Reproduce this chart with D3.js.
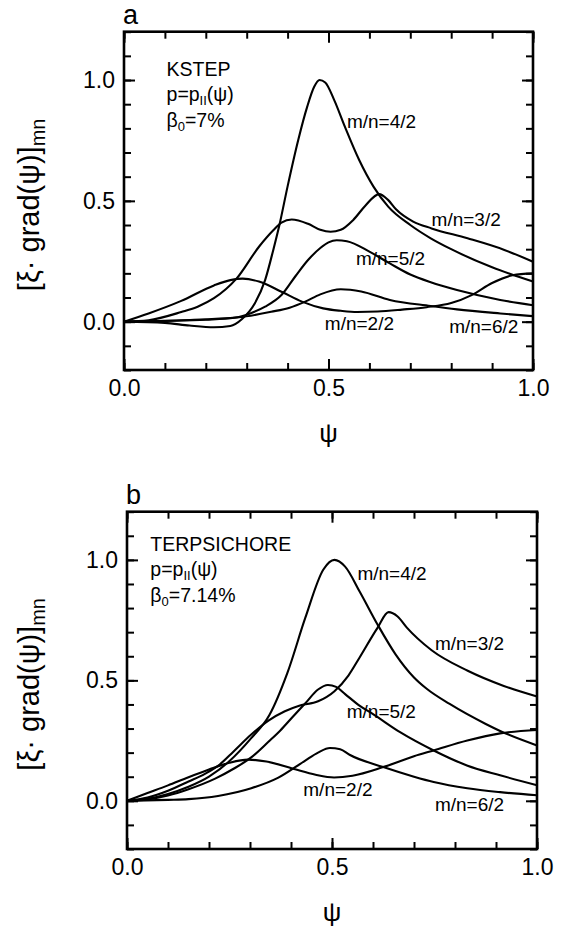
<!DOCTYPE html>
<html>
<head>
<meta charset="utf-8">
<script src="https://cdn.jsdelivr.net/npm/d3@7"></script>
<style>
  body { margin: 0; background: #fff; }
  text { font-family: "Liberation Sans", Arial, Helvetica, sans-serif; fill: #000; }
  .curve { fill: none; stroke: #000; stroke-width: 2.1px; }
</style>
</head>
<body>
<div id="chart"></div>
<script>
// axis values
var psiTicks = d3.range(0, 11).map(function(i){ return i/10; });
var psiMajor = [0, 0.5, 1.0];
var yTicks = d3.range(-2, 13).map(function(i){ return i/10; });
var yMajor = [0, 0.5, 1.0];

// panel a - KSTEP, [psi, value]
var a22 = [[0,0],[0.06,0.034],[0.14,0.086],[0.22,0.15],[0.26,0.172],[0.29,0.178],[0.33,0.166],[0.385,0.124],[0.435,0.083],[0.487,0.055],[0.53,0.045],[0.57,0.04],[0.62,0.042],[0.68,0.05],[0.74,0.06],[0.8,0.077],[0.85,0.11],[0.9,0.16],[0.95,0.192],[1.0,0.2]];
var a32 = [[0,0],[0.06,0.006],[0.14,0.04],[0.18,0.062],[0.22,0.097],[0.275,0.178],[0.33,0.31],[0.365,0.378],[0.385,0.41],[0.41,0.423],[0.45,0.405],[0.48,0.38],[0.505,0.372],[0.53,0.38],[0.56,0.42],[0.59,0.48],[0.624,0.528],[0.645,0.505],[0.665,0.465],[0.707,0.414],[0.752,0.386],[0.84,0.345],[0.93,0.297],[1.0,0.248]];
var a42 = [[0,0],[0.1,-0.005],[0.16,-0.016],[0.22,-0.023],[0.26,-0.018],[0.288,0.01],[0.32,0.076],[0.345,0.172],[0.365,0.297],[0.38,0.4],[0.4,0.56],[0.426,0.752],[0.448,0.89],[0.465,0.972],[0.478,1.0],[0.492,0.99],[0.514,0.917],[0.54,0.807],[0.575,0.669],[0.61,0.559],[0.646,0.476],[0.7,0.40],[0.75,0.345],[0.8,0.30],[0.9,0.225],[1.0,0.166]];
var a52 = [[0,0],[0.1,0.003],[0.2,0.008],[0.27,0.016],[0.31,0.035],[0.345,0.062],[0.385,0.11],[0.42,0.19],[0.45,0.255],[0.48,0.305],[0.5,0.328],[0.52,0.337],[0.545,0.333],[0.6,0.29],[0.65,0.241],[0.7,0.195],[0.75,0.163],[0.814,0.131],[0.92,0.09],[1.0,0.068]];
var a62 = [[0,0],[0.14,0.006],[0.28,0.018],[0.36,0.041],[0.405,0.058],[0.443,0.083],[0.48,0.113],[0.53,0.134],[0.58,0.125],[0.65,0.09],[0.75,0.065],[0.814,0.051],[0.92,0.034],[1.0,0.023]];

// panel b - TERPSICHORE
var b22 = [[0,0],[0.05,0.032],[0.1,0.064],[0.15,0.098],[0.2,0.13],[0.25,0.158],[0.295,0.171],[0.34,0.163],[0.405,0.133],[0.46,0.108],[0.505,0.097],[0.55,0.104],[0.625,0.14],[0.7,0.185],[0.748,0.209],[0.83,0.25],[0.91,0.28],[1.0,0.294]];
var b32 = [[0,0],[0.05,0.014],[0.1,0.042],[0.15,0.08],[0.19,0.112],[0.222,0.145],[0.26,0.205],[0.303,0.275],[0.345,0.333],[0.385,0.372],[0.42,0.395],[0.466,0.413],[0.506,0.455],[0.54,0.52],[0.567,0.594],[0.611,0.718],[0.638,0.783],[0.66,0.765],[0.682,0.72],[0.743,0.625],[0.831,0.54],[0.919,0.477],[1.0,0.433]];
var b42 = [[0,0],[0.05,0.008],[0.1,0.028],[0.15,0.058],[0.2,0.1],[0.25,0.165],[0.303,0.26],[0.347,0.355],[0.391,0.53],[0.435,0.76],[0.479,0.96],[0.506,1.0],[0.532,0.972],[0.567,0.87],[0.611,0.732],[0.655,0.608],[0.7,0.512],[0.731,0.465],[0.787,0.402],[0.875,0.319],[0.91,0.29],[1.0,0.23]];
var b52 = [[0,0],[0.05,0.006],[0.1,0.022],[0.15,0.048],[0.215,0.092],[0.26,0.133],[0.303,0.18],[0.345,0.245],[0.374,0.292],[0.405,0.35],[0.435,0.405],[0.466,0.462],[0.49,0.481],[0.51,0.473],[0.532,0.443],[0.567,0.395],[0.6,0.36],[0.666,0.285],[0.748,0.209],[0.829,0.147],[0.91,0.106],[1.0,0.065]];
var b62 = [[0,0],[0.1,0.004],[0.15,0.007],[0.222,0.02],[0.303,0.052],[0.368,0.095],[0.433,0.165],[0.466,0.2],[0.495,0.219],[0.52,0.214],[0.544,0.19],[0.625,0.14],[0.7,0.1],[0.748,0.078],[0.83,0.052],[0.91,0.036],[1.0,0.023]];

var modeNames = ["m/n=4/2", "m/n=3/2", "m/n=5/2", "m/n=2/2", "m/n=6/2"];
// label anchors in data units (psi, value), same order as modeNames
var labelPosA = [[0.545,0.801],[0.752,0.396],[0.567,0.235],[0.491,-0.034],[0.795,-0.047]];
var labelPosB = [[0.562,0.915],[0.751,0.626],[0.536,0.344],[0.43,0.021],[0.751,-0.041]];

var panels = [
  {tag: "a", code: "KSTEP", beta: "=7%", curves: [a42, a32, a52, a22, a62], labels: labelPosA,
   box: {l: 124, r: 533, t: 31.7, b: 370}, textAt: [0.104, 1.017]},
  {tag: "b", code: "TERPSICHORE", beta: "=7.14%", curves: [b42, b32, b52, b22, b62], labels: labelPosB,
   box: {l: 127, r: 537, t: 511.7, b: 849}, textAt: [0.057, 1.037]}
];

var svg = d3.select("#chart").append("svg").attr("width", 563).attr("height", 930);
svg.append("rect").attr("width", 563).attr("height", 930).attr("fill", "#fff");

panels.forEach(function(p){
  var x = d3.scaleLinear().domain([0, 1]).range([p.box.l, p.box.r]);
  var y = d3.scaleLinear().domain([-0.2, 1.2]).range([p.box.b, p.box.t]);
  var g = svg.append("g");

  var axes = [
    [d3.axisBottom, x, "translate(0," + p.box.b + ")", psiTicks, psiMajor, true, 10],
    [d3.axisTop, x, "translate(0," + p.box.t + ")", psiTicks, psiMajor, false, 3],
    [d3.axisLeft, y, "translate(" + p.box.l + ",0)", yTicks, yMajor, true, 9],
    [d3.axisRight, y, "translate(" + p.box.r + ",0)", yTicks, yMajor, false, 3]
  ];
  axes.forEach(function(ax){
    var minor = ax[0](ax[1]).tickValues(ax[3]).tickSize(-7).tickFormat("");
    var major = ax[0](ax[1]).tickValues(ax[4]).tickSize(-11).tickPadding(ax[6])
      .tickFormat(ax[5] ? d3.format(".1f") : "");
    var gm = g.append("g").attr("transform", ax[2]).call(minor);
    var gM = g.append("g").attr("transform", ax[2]).call(major);
    [gm, gM].forEach(function(s){
      s.select(".domain").remove();
      s.selectAll(".tick line").attr("stroke", "#000").attr("stroke-width", 2);
      s.selectAll(".tick text").attr("font-size", 23).attr("fill", "#000")
        .attr("font-family", "Liberation Sans, Arial, sans-serif");
    });
  });

  g.append("rect")
    .attr("x", p.box.l).attr("y", p.box.t)
    .attr("width", p.box.r - p.box.l).attr("height", p.box.b - p.box.t)
    .attr("fill", "none").attr("stroke", "#000").attr("stroke-width", 2.6);

  var line = d3.line()
    .x(function(d){ return x(d[0]); })
    .y(function(d){ return y(d[1]); })
    .curve(d3.curveMonotoneX);

  g.selectAll(".curve").data(p.curves).enter().append("path")
    .attr("class", "curve").attr("d", line);

  g.selectAll(".mlabel").data(p.labels).enter().append("text")
    .attr("class", "mlabel")
    .attr("x", function(d){ return x(d[0]); })
    .attr("y", function(d){ return y(d[1]); })
    .attr("font-size", 19)
    .text(function(d, i){ return modeNames[i]; });

  // code / profile / beta block
  var tx = x(p.textAt[0]), ty = y(p.textAt[1]);
  g.append("text").attr("x", tx).attr("y", ty).attr("font-size", 19.5).text(p.code);
  var t2 = g.append("text").attr("x", tx).attr("y", ty + 25.5).attr("font-size", 19.5);
  t2.append("tspan").text("p=p");
  t2.append("tspan").attr("font-size", 13).attr("dy", 4).text("II");
  t2.append("tspan").attr("dy", -4).text("(ψ)");
  var t3 = g.append("text").attr("x", tx).attr("y", ty + 51).attr("font-size", 19.5);
  t3.append("tspan").text("β");
  t3.append("tspan").attr("font-size", 13).attr("dy", 4).text("0");
  t3.append("tspan").attr("dy", -4).text(p.beta);

  // panel tag
  g.append("text").attr("x", p.box.l - 1).attr("y", p.box.t - 8)
    .attr("font-size", 27).text(p.tag);

  // axis titles
  g.append("text")
    .attr("x", (p.box.l + p.box.r) / 2).attr("y", p.box.b + 72)
    .attr("text-anchor", "middle").attr("font-size", 26).text("ψ");

  var yt = g.append("text")
    .attr("transform", "translate(39," + ((p.box.t + p.box.b) / 2 + 4) + ") rotate(-90)")
    .attr("text-anchor", "middle").attr("font-size", 29);
  yt.append("tspan").text("[ξ·  grad(ψ)]");
  yt.append("tspan").attr("font-size", 20).attr("dy", 6).text("mn");
});
</script>
</body>
</html>
